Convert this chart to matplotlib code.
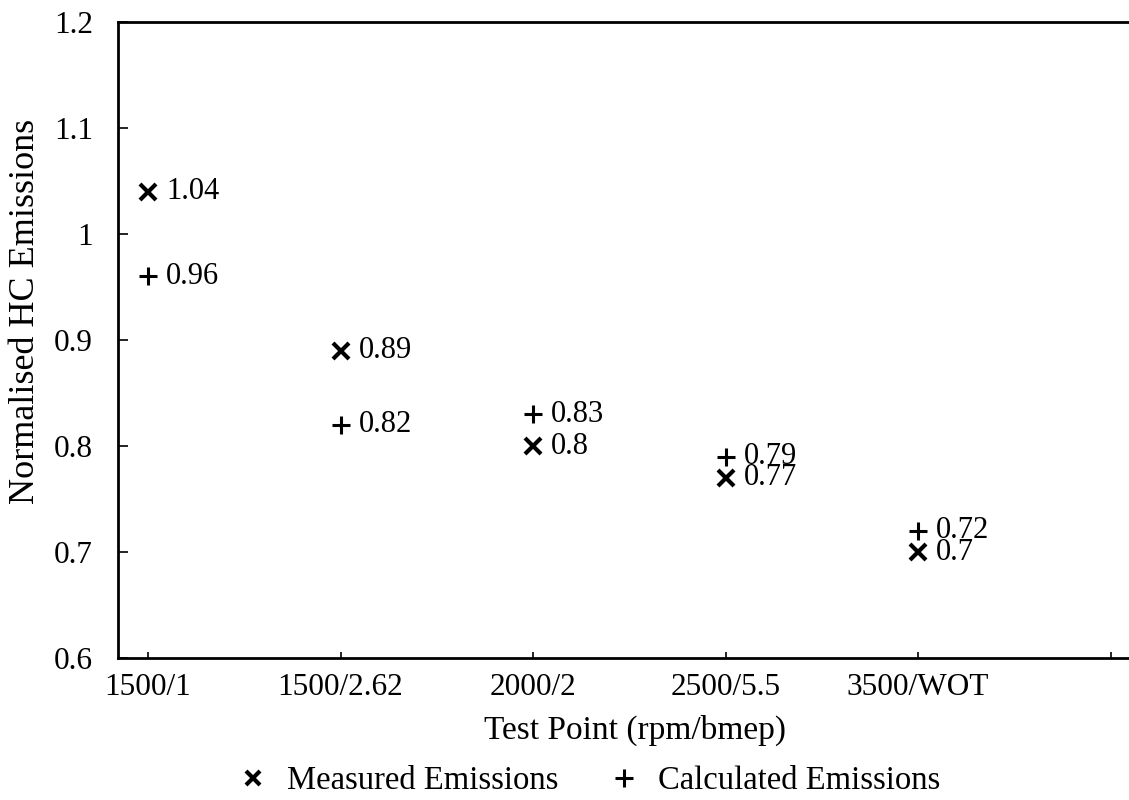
import matplotlib
matplotlib.use("Agg")
import matplotlib.pyplot as plt
from matplotlib.lines import Line2D

# test points and normalised HC emissions
test_points = ["1500/1", "1500/2.62", "2000/2", "2500/5.5", "3500/WOT"]
measured = [1.04, 0.89, 0.8, 0.77, 0.7]
calculated = [0.96, 0.82, 0.83, 0.79, 0.72]

plt.rcParams['font.family'] = ['Liberation Serif', 'DejaVu Serif']

fig = plt.figure(figsize=(11.29, 8), dpi=100)
ax = fig.add_axes([0.1045, 0.1775, 0.8945, 0.795])

xpos = list(range(len(test_points)))
ax.plot(xpos, measured, linestyle='none', marker='x', color='black',
        markersize=11, markeredgewidth=3)
ax.plot(xpos, calculated, linestyle='none', marker='+', color='black',
        markersize=13, markeredgewidth=2.2)

# value labels next to each point
for x, v in zip(xpos, measured):
    ax.annotate(f"{v:g}", (x, v), xytext=(13, 0), textcoords='offset points',
                va='center', ha='left', fontsize=22)
for x, v in zip(xpos, calculated):
    ax.annotate(f"{v:g}", (x, v), xytext=(13, 0), textcoords='offset points',
                va='center', ha='left', fontsize=22)

ax.set_xlim(-0.156, 5.09)
ax.set_ylim(0.6, 1.2)
ax.set_xticks(xpos + [5])
ax.set_xticklabels(test_points + [""])
ax.set_yticks([0.6, 0.7, 0.8, 0.9, 1.0, 1.1, 1.2])
ax.set_yticklabels(["0.6", "0.7", "0.8", "0.9", "1", "1.1", "1.2"])
ax.tick_params(axis='y', direction='in', length=7, width=1.2, pad=18, labelsize=22.5)
ax.tick_params(axis='x', direction='in', length=4, width=1.2, pad=11, labelsize=22.5)

ax.spines['right'].set_visible(False)
for s in ['left', 'bottom', 'top']:
    ax.spines[s].set_linewidth(2)

ax.set_xlabel("Test Point (rpm/bmep)", fontsize=24)
ax.xaxis.set_label_coords(0.512, -0.09)
ax.set_ylabel("Normalised HC Emissions", fontsize=26)
ax.yaxis.set_label_coords(-0.075, 0.545)

handles = [
    Line2D([], [], linestyle='none', marker='x', color='black', markersize=10, markeredgewidth=3),
    Line2D([], [], linestyle='none', marker='+', color='black', markersize=13, markeredgewidth=2.2),
]
fig.legend(handles, ["Measured Emissions", "Calculated Emissions"], loc='lower center',
           bbox_to_anchor=(0.521, -0.016), ncol=2, frameon=False, fontsize=23.5,
           borderpad=0, handletextpad=0.55, columnspacing=1.5, handlelength=1.0)

fig.savefig("out.png", dpi=100)
